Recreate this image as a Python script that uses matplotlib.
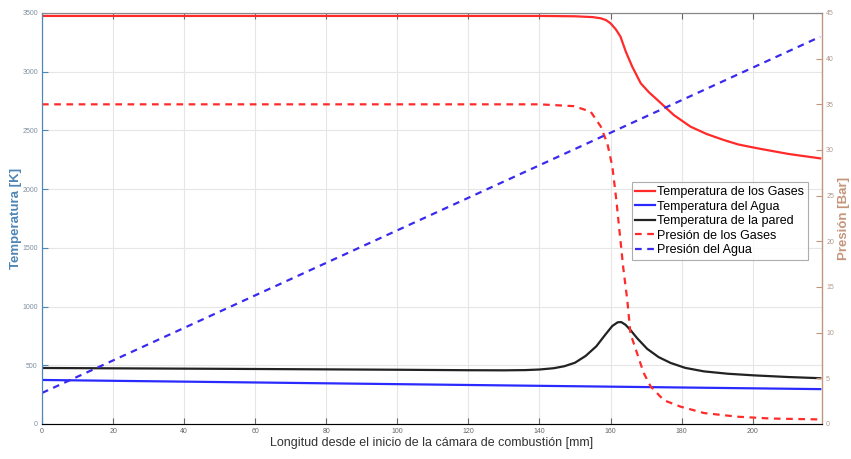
import matplotlib
matplotlib.use("Agg")
import matplotlib.pyplot as plt

plt.rcParams['font.family'] = ['Liberation Sans', 'DejaVu Sans']

# ---- data ----
x_tg = [0, 140.3, 150, 155, 157.2, 158.7, 160.0, 161.5, 162.8, 164.3, 166.1, 168.5, 170.8, 173.2, 177.8, 182.5, 187, 191.9, 196, 201.3, 210, 219]
t_gas = [3475, 3475, 3472, 3465, 3455, 3440, 3412, 3360, 3298, 3170, 3043, 2901, 2825, 2759, 2631, 2532, 2470, 2418, 2380, 2348, 2300, 2262]

x_tw = [0, 219]
t_agua = [375, 297]

x_tp = [0, 50, 100, 120, 130, 136, 140, 144, 147, 150, 153, 156, 158.5, 160.5, 162, 163, 164.2, 165.6, 167.5, 170.3, 173.5, 176.9, 181, 186.3, 193, 200.4, 210, 219]
t_pared = [477, 470, 462, 458, 457, 459, 464, 475, 492, 522, 580, 662, 760, 835, 866, 868, 845, 800, 730, 640, 570, 520, 478, 448, 428, 414, 400, 390]

x_pg = [0, 140, 149.7, 154.4, 157.2, 159.1, 160.5, 161.6, 162.6, 163.6, 164.7, 165.6, 167.5, 169.3, 171.3, 175.0, 179.7, 186.3, 195.7, 205, 219]
p_gas = [35.0, 35.0, 34.8, 34.2, 32.6, 30.7, 28.2, 24.6, 20.8, 17.0, 13.6, 9.9, 7.7, 5.6, 4.1, 2.6, 1.9, 1.2, 0.8, 0.6, 0.5]

x_pw = [0, 219]
p_agua = [3.4, 42.4]

x_ticks = [0, 20, 40, 60, 80, 100, 120, 140, 160, 180, 200]
t_ticks = [0, 500, 1000, 1500, 2000, 2500, 3000, 3500]
p_ticks = [0, 5, 10, 15, 20, 25, 30, 35, 40, 45]

# ---- figure ----
fig = plt.figure(figsize=(8.51, 4.59), dpi=100)
ax = fig.add_axes([42/851, 1-424/459, 780/851, 411/459])
ax2 = ax.twinx()

left_col = '#4f86b5'
right_col = '#c4957a'

l1, = ax.plot(x_tg, t_gas, color='#ff2a2a', lw=1.6, label='Temperatura de los Gases')
l2, = ax.plot(x_tw, t_agua, color='#2a2aff', lw=1.6, label='Temperatura del Agua')
l3, = ax.plot(x_tp, t_pared, color='#222222', lw=1.6, label='Temperatura de la pared')
l4, = ax2.plot(x_pg, p_gas, color='#ff2a2a', lw=1.6, ls=(0, (3, 2.5)), label='Presión de los Gases')
l5, = ax2.plot(x_pw, p_agua, color='#3a2aee', lw=1.6, ls=(0, (3, 2.5)), label='Presión del Agua')

ax.set_xlim(0, 219.5)
ax.set_ylim(0, 3500)
ax2.set_ylim(0, 45)

ax.set_xticks(x_ticks)
ax.set_yticks(t_ticks)
ax2.set_yticks(p_ticks)

ax.grid(True, color='#e6e6e6', lw=0.8)
ax.set_axisbelow(True)

ax.tick_params(axis='x', direction='in', length=4, labelsize=5, colors='#666666', top=True, pad=3)
ax.tick_params(axis='y', direction='in', length=4, labelsize=5, colors=left_col, labelcolor='#7d8fa0', pad=3)
ax2.tick_params(axis='y', direction='in', length=4, labelsize=5, colors=right_col, labelcolor='#b09a8c', pad=3)

for s in ['top', 'bottom']:
    ax.spines[s].set_color('#888888')
ax.spines['left'].set_color(left_col)
ax2.spines['left'].set_color(left_col)
ax2.spines['right'].set_color(right_col)
ax2.spines['top'].set_color('#888888')

ax.set_xlabel('Longitud desde el inicio de la cámara de combustión [mm]', fontsize=9, color='#333333', labelpad=1)
ax.set_ylabel('Temperatura [K]', fontsize=9.5, color=left_col, fontweight='bold', labelpad=0)
ax2.set_ylabel('Presión [Bar]', fontsize=9.5, color=right_col, fontweight='bold', labelpad=3)

leg = ax2.legend(handles=[l1, l2, l3, l4, l5], loc='upper right', bbox_to_anchor=(0.982, 0.588),
                 fontsize=9, frameon=True, fancybox=False, edgecolor='#999999',
                 handlelength=1.6, handletextpad=0.15, labelspacing=0.2, borderpad=0.3,
                 borderaxespad=0)
leg.get_frame().set_linewidth(0.8)

fig.savefig('out.png', dpi=100, facecolor='white')
